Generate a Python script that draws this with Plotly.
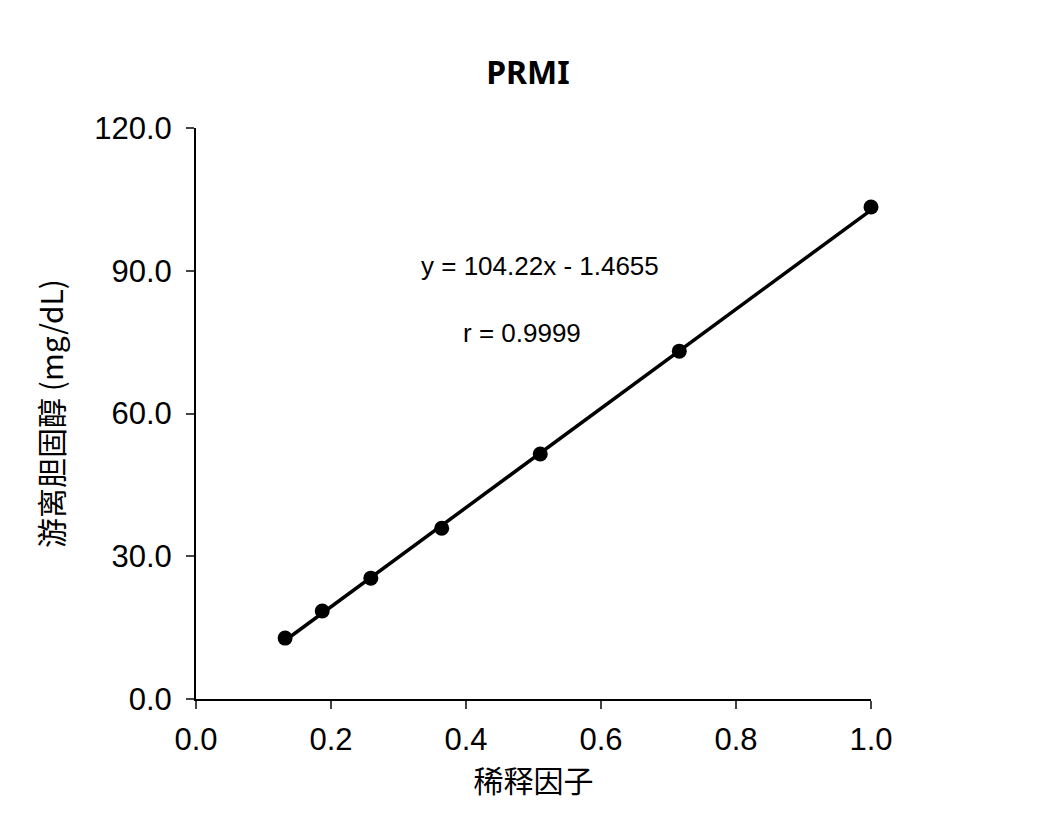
import numpy as np
import plotly.graph_objects as go

dilution = [0.132, 0.187, 0.259, 0.364, 0.510, 0.716, 1.0]
cholesterol = [12.8, 18.5, 25.4, 35.9, 51.5, 73.1, 103.4]
slope, intercept = 104.22, -1.4655
eq_text = "y = 104.22x - 1.4655"
r_text = "r = 0.9999"

xs = np.array([min(dilution), max(dilution)])
fig = go.Figure()
fig.add_trace(go.Scatter(x=xs, y=slope * xs + intercept, mode="lines",
                         line=dict(color="black", width=3.5), hoverinfo="skip", cliponaxis=False))
fig.add_trace(go.Scatter(x=dilution, y=cholesterol, mode="markers", cliponaxis=False,
                         marker=dict(color="black", size=15)))
fig.update_layout(
    width=1040, height=831, showlegend=False,
    plot_bgcolor="white", paper_bgcolor="white",
    margin=dict(l=188, r=177, t=120, b=140),
    font=dict(family="Liberation Sans, Arial", color="black"),
    title=dict(text="<b>PRMI</b>", x=0.5, xanchor="center", y=0.922, yanchor="middle",
               font=dict(size=32, family="Noto Sans, Liberation Sans")),
    annotations=[
        dict(x=0.51, y=91, text=eq_text, showarrow=False, font=dict(size=26)),
        dict(x=0.483, y=76.9, text=r_text, showarrow=False, font=dict(size=26)),
    ],
)
fig.update_xaxes(range=[0, 1], tickvals=[0, 0.2, 0.4, 0.6, 0.8, 1.0], tickformat=".1f",
                 showline=True, linecolor="black", linewidth=2, ticks="outside",
                 ticklen=8, tickwidth=2, showgrid=False, zeroline=False,
                 tickfont=dict(size=31), ticklabelstandoff=4,
                 title=dict(text="稀释因子", standoff=12, font=dict(size=30, family="Noto Sans CJK SC")))
fig.update_yaxes(range=[0, 120], tickvals=[0, 30, 60, 90, 120], tickformat=".1f",
                 showline=True, linecolor="black", linewidth=2, ticks="outside",
                 ticklen=8, tickwidth=2, showgrid=False, zeroline=False,
                 tickfont=dict(size=31), ticklabelstandoff=8,
                 title=dict(text="游离胆固醇 (mg/dL)", standoff=22, font=dict(size=30, family="Noto Sans CJK SC")))
fig.write_html("out.html")
